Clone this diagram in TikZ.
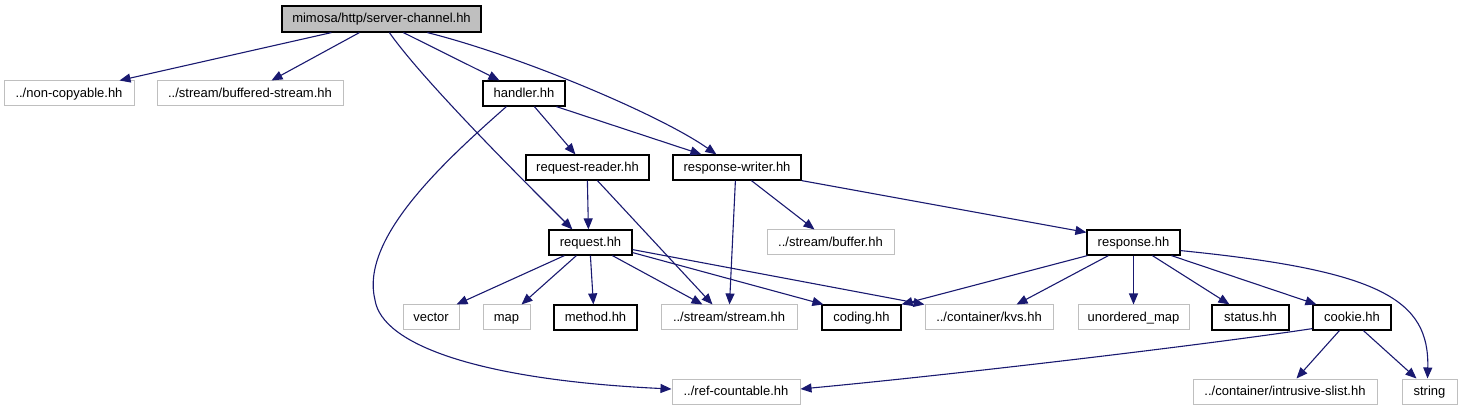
\documentclass[tikz,border=0pt]{standalone}
\usepackage{fontspec}
\setmainfont{Liberation Sans}
\usetikzlibrary{arrows.meta}
\definecolor{edgecol}{RGB}{25,25,112}
\definecolor{grayborder}{RGB}{191,191,191}
\definecolor{rootfill}{RGB}{191,191,191}
\begin{document}
\begin{tikzpicture}[x=1pt,y=-1pt,
 box/.style={draw=black, line width=1.2pt, minimum height=25pt, inner sep=0pt, fill=white, text height=10pt, text depth=2pt, font=\fontsize{13}{15}\selectfont},
 ext/.style={box, draw=grayborder, line width=1pt},
 root/.style={box, fill=rootfill, minimum height=26pt},
 e/.style={draw=edgecol, line width=1.1pt, -{Triangle[length=11pt,width=9pt]}}]
\useasboundingbox (0,0) rectangle (1461,411);
% nodes
\node[root, minimum width=199pt] (sc) at (381.5,19) {mimosa/http/server-channel.hh};
\node[ext, minimum width=130pt] (nc) at (69,93.5) {../non-copyable.hh};
\node[ext, minimum width=186pt] (bs) at (250,93.5) {../stream/buffered-stream.hh};
\node[box, minimum width=82pt] (ha) at (524,93.5) {handler.hh};
\node[box, minimum width=123pt] (rr) at (587.5,167.5) {request-reader.hh};
\node[box, minimum width=128pt] (rw) at (737,167.5) {response-writer.hh};
\node[box, minimum width=83pt] (req) at (590.5,242.5) {request.hh};
\node[ext, minimum width=127pt] (buf) at (830.5,242.5) {../stream/buffer.hh};
\node[box, minimum width=93pt] (resp) at (1133.5,242.5) {response.hh};
\node[ext, minimum width=56pt] (vec) at (431,317.5) {vector};
\node[ext, minimum width=47pt] (map) at (506.5,317.5) {map};
\node[box, minimum width=83pt] (meth) at (595.5,317.5) {method.hh};
\node[ext, minimum width=136pt] (str) at (729,317.5) {../stream/stream.hh};
\node[box, minimum width=79pt] (cod) at (861.5,317.5) {coding.hh};
\node[ext, minimum width=128pt] (kvs) at (989,317.5) {../container/kvs.hh};
\node[ext, minimum width=111pt] (um) at (1133.5,317.5) {unordered\_map};
\node[box, minimum width=77pt] (sta) at (1250.5,317.5) {status.hh};
\node[box, minimum width=78pt] (coo) at (1352,317.5) {cookie.hh};
\node[ext, minimum width=128pt] (ref) at (736,391.5) {../ref-countable.hh};
\node[ext, minimum width=184pt] (isl) at (1285,391.5) {../container/intrusive-slist.hh};
\node[ext, minimum width=55pt] (strg) at (1429.5,391.5) {string};
% edges from server-channel
\draw[e] ([xshift=50pt]sc.south west) -- ([xshift=116pt]nc.north west);
\draw[e] ([xshift=78pt]sc.south west) -- ([xshift=115pt]bs.north west);
\draw[e] ([xshift=122pt]sc.south west) -- ([xshift=17pt]ha.north west);
\draw[e] ([xshift=108pt]sc.south west) .. controls +(35,50) and +(-40,-40) .. ([xshift=24pt]req.north west);
\draw[e] ([xshift=146pt]sc.south west) .. controls +(92,23) and +(-57,-40) .. ([xshift=44pt]rw.north west);
% handler
\draw[e] ([xshift=52pt]ha.south west) -- ([xshift=50pt]rr.north west);
\draw[e] ([xshift=74pt]ha.south west) -- ([xshift=29pt]rw.north west);
\draw[e] ([xshift=24pt]ha.south west) .. controls (440,165) and (360,240) .. (375,300)
  .. controls (382,345) and (480,380) .. ([yshift=2.5pt]ref.west);
% request-reader
\draw[e] ([xshift=62pt]rr.south west) -- ([xshift=40pt]req.north west);
\draw[e] ([xshift=72pt]rr.south west) -- ([xshift=52pt]str.north west);
% response-writer
\draw[e] ([xshift=63pt]rw.south west) -- ([xshift=69pt]str.north west);
\draw[e] ([xshift=79pt]rw.south west) -- ([xshift=48pt]buf.north west);
\draw[e] (rw.south east) -- ([yshift=-3pt]resp.north west);
% request
\draw[e] ([xshift=16pt]req.south west) -- ([xshift=54pt]vec.north west);
\draw[e] ([xshift=28pt]req.south west) -- ([xshift=39pt]map.north west);
\draw[e] ([xshift=42pt]req.south west) -- ([xshift=40pt]meth.north west);
\draw[e] ([xshift=64pt]req.south west) -- ([xshift=42pt]str.north west);
\draw[e] ([yshift=3pt]req.south east) -- ([xshift=2pt]cod.north west);
\draw[e] ([yshift=6pt]req.south east) -- (kvs.north west);
% response
\draw[e] ([xshift=1pt]resp.south west) -- (cod.north east);
\draw[e] ([xshift=22pt]resp.south west) -- ([xshift=92pt]kvs.north west);
\draw[e] (resp.south) -- (um.north);
\draw[e] ([xshift=66pt]resp.south west) -- ([xshift=18pt]sta.north west);
\draw[e] ([xshift=85pt]resp.south west) -- ([xshift=4pt]coo.north west);
\draw[e] ([yshift=5pt]resp.south east) .. controls +(200,20) and +(2,-79) .. ([xshift=26pt]strg.north west);
% cookie
\draw[e] ([yshift=2pt]coo.south west) .. controls +(-113,17) and +(150,-14) .. ([yshift=2.5pt]ref.east);
\draw[e] ([xshift=27pt]coo.south west) -- ([xshift=104pt]isl.north west);
\draw[e] ([xshift=51pt]coo.south west) -- ([xshift=15pt]strg.north west);
\end{tikzpicture}
\end{document}
